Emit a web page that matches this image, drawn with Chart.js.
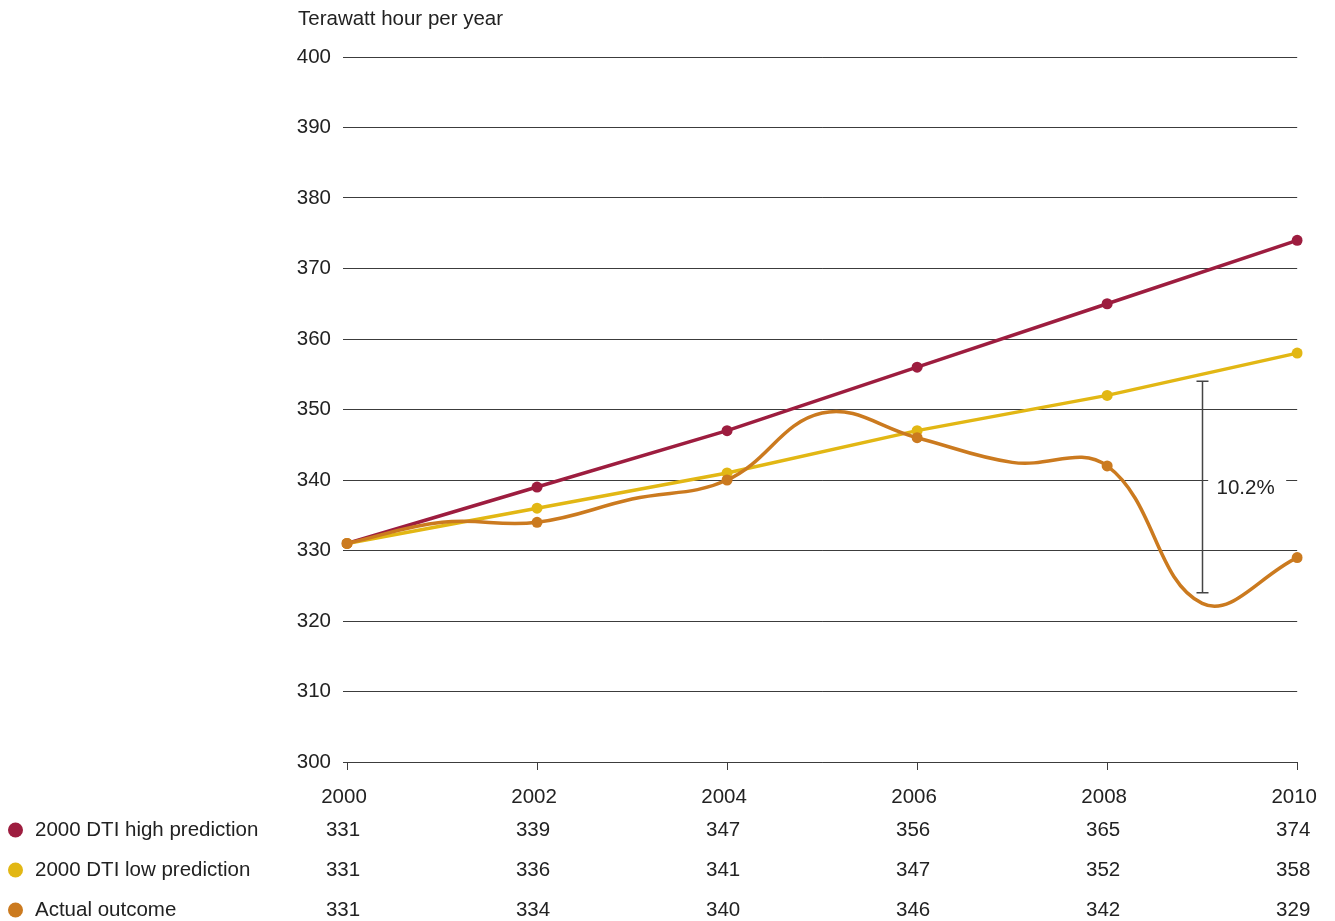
<!DOCTYPE html>
<html>
<head>
<meta charset="utf-8">
<title>Electricity demand: predictions and outcome</title>
<script src="https://cdn.jsdelivr.net/npm/chart.js@4.4.1/dist/chart.umd.min.js"></script>
<style>
  html, body { margin: 0; padding: 0; background: #fff; }
  #wrap { width: 1335px; height: 921px; position: relative; }
</style>
</head>
<body>
<div id="wrap"><canvas id="demandChart"></canvas></div>
<script>
// yearly categories on the x axis; only even years carry a label
const years = ['2000', '2001', '2002', '2003', '2004', '2005', '2006', '2007', '2008', '2009', '2010'];
const tableYears = ['2000', '2002', '2004', '2006', '2008', '2010'];

// TWh per year
const highPrediction = [331, 339, 347, 356, 365, 374];
const lowPrediction = [331, 336, 341, 347, 352, 358];
const actualOutcome = [331, 334, 334, 337.3, 340, 349.5, 346, 342.5, 342, 322.5, 329];

const yMin = 300;
const yMax = 400;
const yStep = 10;

// gap between low prediction and outcome in 2009
const gapYear = '2009';
const gapTop = 354;
const gapBottom = 324;
const gapLabel = '10.2%';

const seriesNames = ['2000 DTI high prediction', '2000 DTI low prediction', 'Actual outcome'];
const seriesColors = ['#9d1d3f', '#e2b714', '#cb7a1f'];

const textColor = '#222';
const gridColor = '#3c3c3c';
const fontFamily = '"Liberation Sans", Arial, Helvetica, sans-serif';
const fontSize = 20.5;

// spread six-point series over the yearly axis
function toYearly(values) {
    return years.map(y => {
        const i = tableYears.indexOf(y);
        return i < 0 ? null : values[i];
    });
}

const actualAtTableYears = tableYears.map(y => actualOutcome[years.indexOf(y)]);
const tableRows = [highPrediction, lowPrediction, actualAtTableYears];

const decorations = {
    id: 'decorations',
    beforeDatasetsDraw(chart) {
        const { ctx, scales: { x, y } } = chart;
        const gx = x.getPixelForValue(years.indexOf(gapYear));
        // clear the grid line behind the percentage label
        ctx.save();
        ctx.fillStyle = '#fff';
        ctx.fillRect(gx + 6, y.getPixelForValue(340) - 2, 78, 4);
        ctx.restore();
    },
    afterDatasetsDraw(chart) {
        const { ctx, scales: { x, y } } = chart;
        const gx = Math.round(x.getPixelForValue(years.indexOf(gapYear))) + 0.5;
        const top = y.getPixelForValue(gapTop);
        const bottom = y.getPixelForValue(gapBottom);
        ctx.save();
        ctx.strokeStyle = '#444';
        ctx.lineWidth = 1.5;
        ctx.beginPath();
        ctx.moveTo(gx, top);
        ctx.lineTo(gx, bottom);
        ctx.moveTo(gx - 6, top);
        ctx.lineTo(gx + 6, top);
        ctx.moveTo(gx - 6, bottom);
        ctx.lineTo(gx + 6, bottom);
        ctx.stroke();
        ctx.fillStyle = textColor;
        ctx.font = fontSize + 'px ' + fontFamily;
        ctx.textAlign = 'left';
        ctx.textBaseline = 'middle';
        ctx.fillText(gapLabel, gx + 14, (top + bottom) / 2 + 1);
        ctx.restore();
    },
    afterDraw(chart) {
        const { ctx, scales: { x } } = chart;
        ctx.save();
        ctx.font = fontSize + 'px ' + fontFamily;
        ctx.fillStyle = textColor;
        ctx.textBaseline = 'middle';
        ctx.textAlign = 'left';
        ctx.fillText('Terawatt hour per year', 298, 19);

        // legend rows with the values under each labelled year
        tableRows.forEach((values, r) => {
            const rowY = 830 + r * 40;
            ctx.beginPath();
            ctx.arc(15.5, rowY, 7.5, 0, Math.PI * 2);
            ctx.fillStyle = seriesColors[r];
            ctx.fill();
            ctx.fillStyle = textColor;
            ctx.textAlign = 'left';
            ctx.fillText(seriesNames[r], 35, rowY);
            ctx.textAlign = 'center';
            tableYears.forEach((yr, i) => {
                const px = x.getPixelForValue(years.indexOf(yr)) - 4;
                ctx.fillText(String(values[i]), px, rowY);
            });
        });
        ctx.restore();
    }
};

function lineDataset(label, data, color, order, radius) {
    return {
        label: label,
        data: data,
        borderColor: color,
        backgroundColor: color,
        borderWidth: 3.5,
        pointRadius: radius,
        pointBorderWidth: 0,
        pointHoverRadius: radius,
        spanGaps: true,
        order: order
    };
}

const actual = lineDataset(seriesNames[2], actualOutcome, seriesColors[2], 1,
    years.map((y, i) => (i % 2 === 0 ? 5.5 : 0)));
actual.tension = 0.4;

new Chart(document.getElementById('demandChart'), {
    type: 'line',
    data: {
        labels: years,
        datasets: [
            lineDataset(seriesNames[0], toYearly(highPrediction), seriesColors[0], 3, 5.5),
            lineDataset(seriesNames[1], toYearly(lowPrediction), seriesColors[1], 2, 5.5),
            actual
        ]
    },
    options: {
        responsive: true,
        maintainAspectRatio: false,
        animation: false,
        layout: { padding: { top: 57, right: 37, bottom: 0, left: 0 } },
        plugins: {
            legend: { display: false },
            tooltip: { enabled: false }
        },
        scales: {
            x: {
                afterFit(scale) { scale.height = 159; },
                border: { display: false },
                grid: {
                    drawOnChartArea: false,
                    drawTicks: true,
                    tickLength: 8,
                    lineWidth: 1,
                    color: c => (c.index % 2 === 0 ? gridColor : 'rgba(0,0,0,0)')
                },
                ticks: {
                    autoSkip: false,
                    maxRotation: 0,
                    padding: 15,
                    labelOffset: -3,
                    color: textColor,
                    font: { family: fontFamily, size: fontSize },
                    callback: function (value, index) {
                        return index % 2 === 0 ? this.getLabelForValue(value) : '';
                    }
                }
            },
            y: {
                min: yMin,
                max: yMax,
                afterFit(scale) { scale.width = 347; },
                border: { display: false },
                grid: {
                    color: gridColor,
                    lineWidth: 1,
                    tickLength: 4
                },
                ticks: {
                    stepSize: yStep,
                    padding: 12,
                    color: textColor,
                    font: { family: fontFamily, size: fontSize }
                }
            }
        }
    },
    plugins: [decorations]
});
</script>
</body>
</html>
